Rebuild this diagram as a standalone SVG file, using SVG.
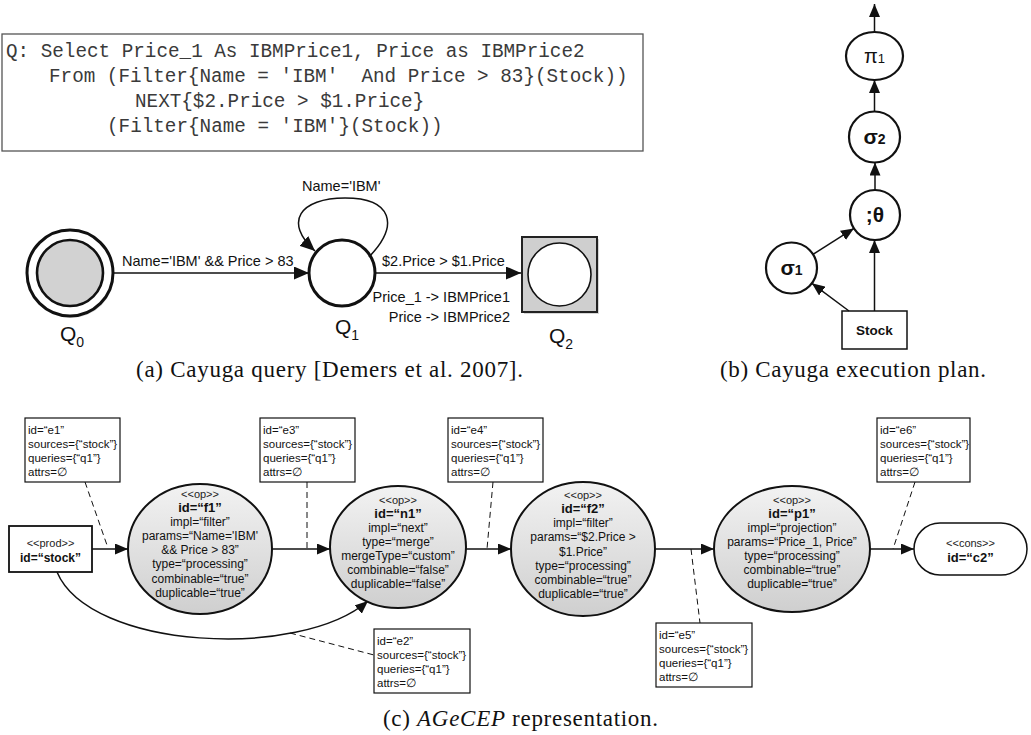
<svg xmlns="http://www.w3.org/2000/svg" width="1031" height="735" viewBox="0 0 1031 735">
<style>
.q{font-family:"Liberation Mono",monospace;font-size:19.3px;fill:#3a3a3a}
.lab{font-family:"Liberation Sans",Arial,sans-serif;font-size:14.5px;fill:#111}
.ql{font-family:"Liberation Sans",Arial,sans-serif;font-size:21px;fill:#111}
.cap{font-family:"Liberation Serif","Times New Roman",serif;font-size:23px;fill:#111}
.pl{font-family:"Liberation Sans",Arial,sans-serif;font-weight:bold;fill:#111;text-anchor:middle}
.pn{font-weight:normal}
.et{font-family:"Liberation Sans",Arial,sans-serif;font-size:11.5px;fill:#111}
.ot{font-family:"Liberation Sans",Arial,sans-serif;font-size:12px;fill:#111;text-anchor:middle}
.ob{font-weight:bold;font-size:13px}
.st{font-size:11px;fill:#222}
.ebox{fill:#fff;stroke:#111;stroke-width:1.2}
.op{fill:url(#og);stroke:#111;stroke-width:2}
.ln{fill:none;stroke:#111;stroke-width:1.5}
.dash{fill:none;stroke:#111;stroke-width:1;stroke-dasharray:6,4}
.pc{fill:#fff;stroke:#111;stroke-width:2.2}
</style>
<defs>
<linearGradient id="og" x1="0" y1="0" x2="0" y2="1">
<stop offset="0" stop-color="#f2f2f2"/>
<stop offset="1" stop-color="#cfcfcf"/>
</linearGradient>
<marker id="ah" markerUnits="userSpaceOnUse" markerWidth="13" markerHeight="11" refX="13" refY="5.5" orient="auto">
<path d="M0,0 L13,5.5 L0,11 z" fill="#111"/>
</marker>
<marker id="ab" markerUnits="userSpaceOnUse" markerWidth="15" markerHeight="13" refX="15" refY="6.5" orient="auto">
<path d="M0,0 L15,6.5 L0,13 z" fill="#111"/>
</marker>
</defs>
<rect width="1031" height="735" fill="#fff"/>

<!-- (a) query box -->
<g id="query">
<rect x="2" y="34" width="641" height="117" fill="#fff" stroke="#555" stroke-width="1.3"/>
<text class="q" x="6" y="57">Q: Select Price_1 As IBMPrice1, Price as IBMPrice2</text>
<text class="q" x="49" y="82" xml:space="preserve">From (Filter{Name = 'IBM'  And Price &gt; 83}(Stock))</text>
<text class="q" x="135" y="107">NEXT{$2.Price &gt; $1.Price}</text>
<text class="q" x="107" y="132">(Filter{Name = 'IBM'}(Stock))</text>
</g>

<!-- automaton -->
<g id="Q0">
<circle cx="71" cy="275" r="43" fill="#888" opacity="0.25"/>
<circle cx="70" cy="273" r="43" fill="#fff" stroke="#111" stroke-width="3"/>
<circle cx="70" cy="273" r="33" fill="#d2d2d2" stroke="#111" stroke-width="2.6"/>
<text class="ql" x="60" y="341">Q<tspan font-size="14" dy="6">0</tspan></text>
</g>
<g id="Q1">
<circle cx="342" cy="273" r="33" fill="#fff" stroke="#111" stroke-width="3"/>
<text class="ql" x="335" y="334">Q<tspan font-size="14" dy="6">1</tspan></text>
</g>
<g id="Q2">
<rect x="524" y="239" width="75" height="75" fill="#999" opacity="0.4"/>
<rect x="522" y="237" width="75" height="75" fill="#cfcfcf" stroke="#222" stroke-width="2"/>
<circle cx="559.5" cy="274.5" r="31.5" fill="#fff" stroke="#111" stroke-width="1.6"/>
<text class="ql" x="549" y="343">Q<tspan font-size="14" dy="6">2</tspan></text>
</g>
<g id="automaton-edges">
<line class="ln" x1="113" y1="273" x2="309" y2="273" marker-end="url(#ab)"/>
<path class="ln" d="M369,257 C400,225 392,198 345,198 C300,198 283,222 315,251" marker-end="url(#ab)"/>
<line class="ln" x1="375" y1="273" x2="521" y2="273" marker-end="url(#ab)"/>
<text class="lab" x="122" y="266">Name='IBM' &amp;&amp; Price &gt; 83</text>
<text class="lab" x="302" y="191">Name='IBM'</text>
<text class="lab" x="382" y="266">$2.Price &gt; $1.Price</text>
<text class="lab" x="510" y="302" text-anchor="end">Price_1 -&gt; IBMPrice1</text>
<text class="lab" x="510" y="322" text-anchor="end">Price -&gt; IBMPrice2</text>
</g>
<text class="cap" x="136" y="377" textLength="387">(a) Cayuga query [Demers et al. 2007].</text>

<!-- (b) execution plan -->
<g id="pi1">
<ellipse class="pc" cx="874.5" cy="56" rx="28.5" ry="24"/>
<text class="pl pn" x="874.5" y="63" font-size="20">π<tspan font-size="13">1</tspan></text>
</g>
<g id="sigma2">
<circle class="pc" cx="874.5" cy="137" r="25.5"/>
<text class="pl" x="874.5" y="144" font-size="21">σ<tspan font-size="14">2</tspan></text>
</g>
<g id="seq">
<circle class="pc" cx="875" cy="215" r="25"/>
<text class="pl" x="875" y="222" font-size="21">;θ</text>
</g>
<g id="sigma1">
<circle class="pc" cx="791.5" cy="268" r="25.5"/>
<text class="pl" x="791.5" y="275" font-size="21">σ<tspan font-size="14">1</tspan></text>
</g>
<g id="stock-b">
<rect x="842" y="311" width="65" height="38" fill="#fff" stroke="#111" stroke-width="1.5"/>
<text class="pl" x="874.5" y="335" font-size="13.5">Stock</text>
</g>
<g id="plan-edges">
<line class="ln" x1="874.5" y1="32" x2="874.5" y2="4" marker-end="url(#ah)"/>
<line class="ln" x1="874.5" y1="111.5" x2="874.5" y2="80" marker-end="url(#ah)"/>
<line class="ln" x1="875" y1="190" x2="875" y2="162.5" marker-end="url(#ah)"/>
<line class="ln" x1="874.5" y1="311" x2="874.5" y2="240" marker-end="url(#ah)"/>
<line class="ln" x1="813" y1="254.3" x2="853.9" y2="228.4" marker-end="url(#ah)"/>
<line class="ln" x1="849" y1="311" x2="811.9" y2="283.3" marker-end="url(#ah)"/>
</g>
<text class="cap" x="720" y="377" textLength="266">(b) Cayuga execution plan.</text>

<!-- (c) AGeCEP -->
<g id="connectors">
<line class="ln" x1="92" y1="549" x2="128" y2="549" marker-end="url(#ah)"/>
<line class="ln" x1="272" y1="549" x2="330" y2="549" marker-end="url(#ah)"/>
<line class="ln" x1="466" y1="549" x2="511" y2="549" marker-end="url(#ah)"/>
<line class="ln" x1="655" y1="549" x2="714" y2="549" marker-end="url(#ah)"/>
<line class="ln" x1="870" y1="549" x2="914" y2="549" marker-end="url(#ah)"/>
<path class="ln" d="M57,572 C90,650 300,660 368,601" marker-end="url(#ah)"/>
<line class="dash" x1="85" y1="482" x2="108" y2="548"/>
<line class="dash" x1="307" y1="482" x2="307" y2="549"/>
<line class="dash" x1="493" y1="482" x2="487" y2="549"/>
<line class="dash" x1="691" y1="549" x2="700" y2="623"/>
<line class="dash" x1="915" y1="482" x2="893" y2="549"/>
<line class="dash" x1="290" y1="633" x2="374" y2="655"/>
</g>

<g id="e1">
<rect class="ebox" x="25" y="418" width="95" height="64"/>
<text class="et" x="28" y="433.5">id=“e1”</text>
<text class="et" x="28" y="447.5">sources={“stock”}</text>
<text class="et" x="28" y="461.5">queries={“q1”}</text>
<text class="et" x="28" y="475.5">attrs=∅</text>
</g>
<g id="e3">
<rect class="ebox" x="260" y="418" width="95" height="64"/>
<text class="et" x="263" y="433.5">id=“e3”</text>
<text class="et" x="263" y="447.5">sources={“stock”}</text>
<text class="et" x="263" y="461.5">queries={“q1”}</text>
<text class="et" x="263" y="475.5">attrs=∅</text>
</g>
<g id="e4">
<rect class="ebox" x="448" y="418" width="95" height="64"/>
<text class="et" x="451" y="433.5">id=“e4”</text>
<text class="et" x="451" y="447.5">sources={“stock”}</text>
<text class="et" x="451" y="461.5">queries={“q1”}</text>
<text class="et" x="451" y="475.5">attrs=∅</text>
</g>
<g id="e6">
<rect class="ebox" x="877" y="418" width="93" height="64"/>
<text class="et" x="880" y="433.5">id=“e6”</text>
<text class="et" x="880" y="447.5">sources={“stock”}</text>
<text class="et" x="880" y="461.5">queries={“q1”}</text>
<text class="et" x="880" y="475.5">attrs=∅</text>
</g>
<g id="e2">
<rect class="ebox" x="374" y="629" width="96" height="64"/>
<text class="et" x="377" y="644.5">id=“e2”</text>
<text class="et" x="377" y="658.5">sources={“stock”}</text>
<text class="et" x="377" y="672.5">queries={“q1”}</text>
<text class="et" x="377" y="686.5">attrs=∅</text>
</g>
<g id="e5">
<rect class="ebox" x="656" y="623" width="96" height="64"/>
<text class="et" x="659" y="638.5">id=“e5”</text>
<text class="et" x="659" y="652.5">sources={“stock”}</text>
<text class="et" x="659" y="666.5">queries={“q1”}</text>
<text class="et" x="659" y="680.5">attrs=∅</text>
</g>

<g id="stock">
<rect x="9" y="526" width="83" height="46" fill="#fff" stroke="#111" stroke-width="1.8"/>
<text class="ot st" x="50.5" y="547">&lt;&lt;prod&gt;&gt;</text>
<text class="ot" x="50.5" y="562" font-weight="bold" font-size="13">id=“stock”</text>
</g>
<g id="f1">
<ellipse class="op" cx="200" cy="549" rx="72" ry="65"/>
<text class="ot st" x="200" y="498">&lt;&lt;op&gt;&gt;</text>
<text class="ot ob" x="200" y="512">id=“f1”</text>
<text class="ot" x="200" y="526">impl=“filter”</text>
<text class="ot" x="200" y="540">params=“Name='IBM'</text>
<text class="ot" x="200" y="554">&amp;&amp; Price &gt; 83”</text>
<text class="ot" x="200" y="568">type=“processing”</text>
<text class="ot" x="200" y="583">combinable=“true”</text>
<text class="ot" x="200" y="597">duplicable=“true”</text>
</g>
<g id="n1">
<ellipse class="op" cx="398" cy="547" rx="68" ry="61"/>
<text class="ot st" x="398" y="504">&lt;&lt;op&gt;&gt;</text>
<text class="ot ob" x="398" y="518">id=“n1”</text>
<text class="ot" x="398" y="532">impl=“next”</text>
<text class="ot" x="398" y="546">type=“merge”</text>
<text class="ot" x="398" y="560">mergeType=“custom”</text>
<text class="ot" x="398" y="574">combinable=“false”</text>
<text class="ot" x="398" y="588">duplicable=“false”</text>
</g>
<g id="f2">
<ellipse class="op" cx="583" cy="549" rx="72" ry="67"/>
<text class="ot st" x="583" y="499">&lt;&lt;op&gt;&gt;</text>
<text class="ot ob" x="583" y="513">id=“f2”</text>
<text class="ot" x="583" y="527">impl=“filter”</text>
<text class="ot" x="583" y="541">params=“$2.Price &gt;</text>
<text class="ot" x="583" y="556">$1.Price”</text>
<text class="ot" x="583" y="570">type=“processing”</text>
<text class="ot" x="583" y="584">combinable=“true”</text>
<text class="ot" x="583" y="598">duplicable=“true”</text>
</g>
<g id="p1">
<ellipse class="op" cx="792" cy="549" rx="78" ry="63"/>
<text class="ot st" x="792" y="504">&lt;&lt;op&gt;&gt;</text>
<text class="ot ob" x="792" y="518">id=“p1”</text>
<text class="ot" x="792" y="532">impl=“projection”</text>
<text class="ot" x="792" y="546">params=“Price_1, Price”</text>
<text class="ot" x="792" y="560">type=“processing”</text>
<text class="ot" x="792" y="574">combinable=“true”</text>
<text class="ot" x="792" y="588">duplicable=“true”</text>
</g>
<g id="c2">
<rect x="914" y="523" width="113" height="52" rx="26" ry="26" fill="#fff" stroke="#111" stroke-width="1.5"/>
<text class="ot st" x="970.5" y="547">&lt;&lt;cons&gt;&gt;</text>
<text class="ot ob" x="970.5" y="562">id=“c2”</text>
</g>
<text class="cap" x="383" y="726" textLength="275">(c) <tspan font-style="italic">AGeCEP</tspan> representation.</text>
</svg>
